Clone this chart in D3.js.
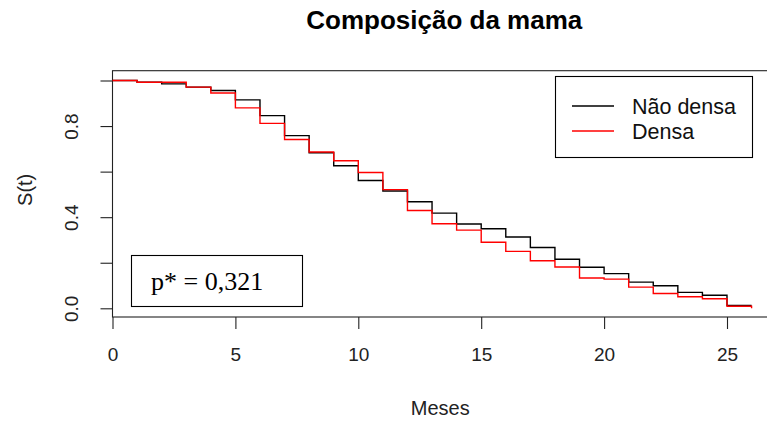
<!DOCTYPE html>
<html>
<head>
<meta charset="utf-8">
<script src="https://cdn.jsdelivr.net/npm/d3@7"></script>
<style>
  body { margin: 0; background: #fff; }
  svg { display: block; }
</style>
</head>
<body>
<div id="root"></div>
<script>
// Data ////////////////////////////////////////////////////////////////
const months = [0, 1, 2, 3, 4, 5, 6, 7, 8, 9, 10, 11, 12, 13, 14, 15, 16, 17, 18, 19, 20, 21, 22, 23, 24, 25, 26];
const naoDensa = [1.0, 0.992, 0.985, 0.971, 0.956, 0.915, 0.846, 0.758, 0.683, 0.626, 0.561, 0.515, 0.468, 0.418, 0.370, 0.349, 0.313, 0.267, 0.215, 0.180, 0.152, 0.115, 0.099, 0.070, 0.057, 0.013, 0.013];
const densa = [1.0, 0.992, 0.992, 0.971, 0.945, 0.880, 0.812, 0.741, 0.686, 0.648, 0.596, 0.521, 0.429, 0.371, 0.343, 0.290, 0.250, 0.209, 0.181, 0.133, 0.128, 0.093, 0.065, 0.051, 0.042, 0.009, 0.0];
const xTicks = [0, 5, 10, 15, 20, 25];
const yTicks = [0, 0.2, 0.4, 0.6, 0.8, 1.0];
const legendLabels = ['Não densa', 'Densa'];
const legendColors = ['#000', '#ff0000'];
const pLabel = 'p* = 0,321';

// Chart ///////////////////////////////////////////////////////////////
const width = 767;
const height = 422;
const box = { left: 112.5, right: 776, top: 70.7, bottom: 317 };
const sans = 'Liberation Sans, Arial, sans-serif';

const svg = d3.select('#root').append('svg').attr('width', width).attr('height', height);

const xScale = d3.scaleLinear().domain([0, 25]).range([box.left, 727]);
const yScale = d3.scaleLinear().domain([0, 1]).range([308.3, 80.5]);

// title
svg.append('text')
  .attr('x', (box.left + box.right) / 2)
  .attr('y', 29)
  .attr('text-anchor', 'middle')
  .style('font-family', sans)
  .style('font-weight', 'bold')
  .style('font-size', '26px')
  .text('Composição da mama');

// x axis
const xAxis = d3.axisBottom(xScale).tickValues(xTicks).tickSize(12).tickPadding(19).tickFormat(d3.format('d'));
const xAxisGroup = svg.append('g').attr('transform', `translate(0, ${box.bottom})`).call(xAxis);
xAxisGroup.select('.domain').remove();

// y axis
const yAxis = d3.axisLeft(yScale).tickValues(yTicks).tickSize(12).tickPadding(0)
  .tickFormat((d) => (d === 0 || d === 0.4 || d === 0.8 ? d3.format('.1f')(d) : ''));
const yAxisGroup = svg.append('g').attr('transform', `translate(${box.left}, 0)`).call(yAxis);
yAxisGroup.select('.domain').remove();
yAxisGroup.selectAll('.tick text')
  .attr('text-anchor', 'middle')
  .attr('transform', 'translate(-41, 0) rotate(-90)')
  .attr('x', 0)
  .attr('dy', '0.35em');

[xAxisGroup, yAxisGroup].forEach((g) => {
  g.selectAll('.tick line').attr('stroke', '#222').attr('stroke-width', 1.1);
  g.selectAll('.tick text')
    .attr('fill', '#222')
    .style('font-family', sans)
    .style('font-size', '19px');
});

// plot box
svg.append('rect')
  .attr('x', box.left)
  .attr('y', box.top)
  .attr('width', box.right - box.left)
  .attr('height', box.bottom - box.top)
  .attr('fill', 'none')
  .attr('stroke', '#222')
  .attr('stroke-width', 1.1);

// axis titles
svg.append('text')
  .attr('x', (box.left + box.right) / 2 - 4)
  .attr('y', 415)
  .attr('text-anchor', 'middle')
  .style('font-family', sans)
  .style('font-size', '20px')
  .attr('fill', '#222')
  .text('Meses');

svg.append('text')
  .attr('transform', `translate(32, ${(box.top + box.bottom) / 2 - 4}) rotate(-90)`)
  .attr('text-anchor', 'middle')
  .style('font-family', sans)
  .style('font-size', '20px')
  .attr('fill', '#222')
  .text('S(t)');

// survival curves
const line = d3.line()
  .x((d, i) => xScale(months[i]))
  .y((d) => yScale(d))
  .curve(d3.curveStepAfter);

[naoDensa, densa].forEach((series, i) => {
  svg.append('path')
    .datum(series)
    .attr('d', line)
    .attr('fill', 'none')
    .attr('stroke', legendColors[i])
    .attr('stroke-width', 1.4);
});

// legend
const legend = svg.append('g');
legend.append('rect')
  .attr('x', 555.5).attr('y', 76.5).attr('width', 197).attr('height', 81)
  .attr('fill', '#fff').attr('stroke', '#000').attr('stroke-width', 1.1);
legendLabels.forEach((label, i) => {
  const y = 106 + i * 25;
  legend.append('line')
    .attr('x1', 572).attr('x2', 614).attr('y1', y).attr('y2', y)
    .attr('stroke', legendColors[i]).attr('stroke-width', 1.4);
  legend.append('text')
    .attr('x', 632).attr('y', y).attr('dy', '0.35em')
    .style('font-family', sans)
    .style('font-size', '21.5px')
    .attr('fill', '#111')
    .text(label);
});

// p-value box
svg.append('rect')
  .attr('x', 131.5).attr('y', 255.5).attr('width', 171).attr('height', 51)
  .attr('fill', '#fff').attr('stroke', '#000').attr('stroke-width', 1.1);
svg.append('text')
  .attr('x', 151).attr('y', 290)
  .style('font-family', 'Liberation Serif, Times New Roman, serif')
  .style('font-size', '26px')
  .attr('fill', '#000')
  .text(pLabel);
</script>
</body>
</html>
